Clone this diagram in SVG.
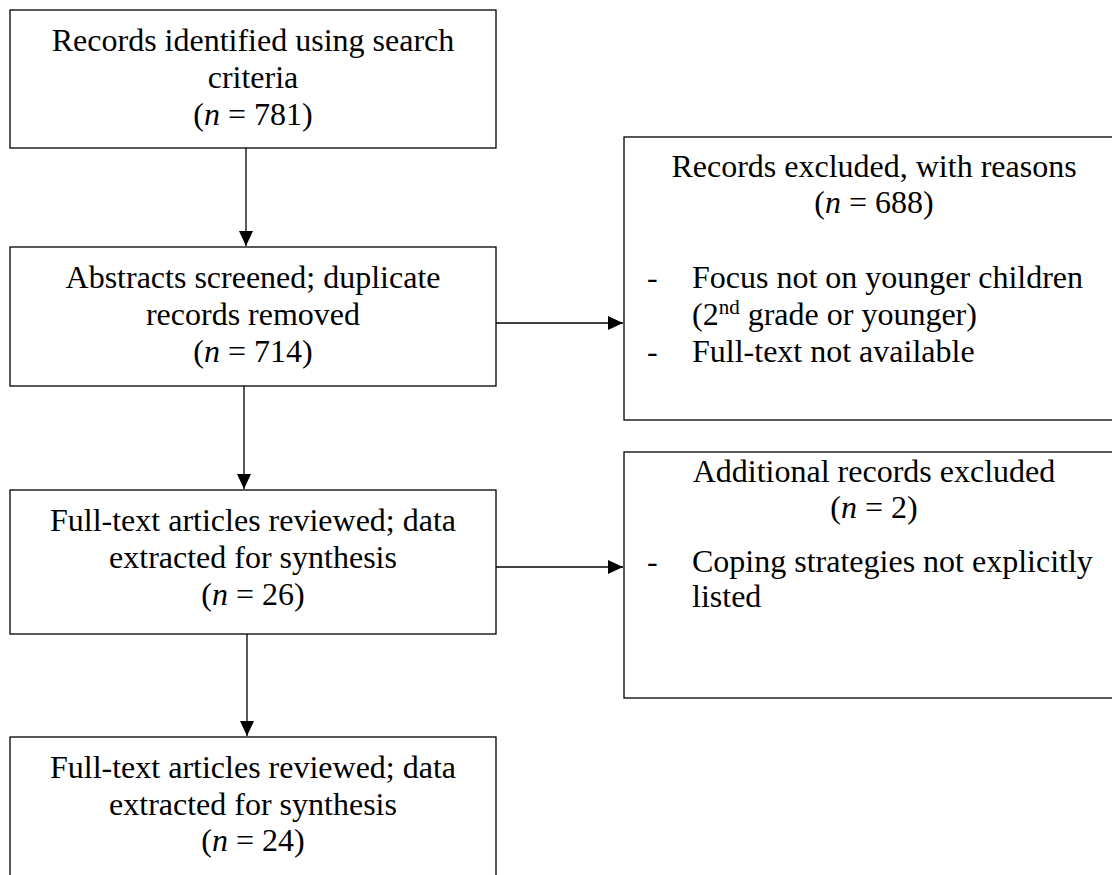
<svg xmlns="http://www.w3.org/2000/svg" width="1112" height="875" viewBox="0 0 1112 875">
<style>
.box{fill:#fff;stroke:#000;stroke-width:1.3}
.t{font-family:"Liberation Serif","Times New Roman",serif;font-size:32px;fill:#000}
.c{text-anchor:middle}
.i{font-style:italic}
.edge{stroke:#000;stroke-width:1.3;fill:none}
</style>
<defs>
<marker id="ah" markerUnits="userSpaceOnUse" markerWidth="16" markerHeight="15" refX="15" refY="7" orient="auto">
<path d="M0,0 L15,7 L0,14 z" fill="#000"/>
</marker>
</defs>
<rect width="1112" height="875" fill="#fff"/>
<g id="connectors">
<line class="edge" x1="246" y1="148" x2="246" y2="246" marker-end="url(#ah)"/>
<line class="edge" x1="244" y1="386" x2="244" y2="489" marker-end="url(#ah)"/>
<line class="edge" x1="247" y1="634" x2="247" y2="736" marker-end="url(#ah)"/>
<line class="edge" x1="496" y1="323" x2="623" y2="323" marker-end="url(#ah)"/>
<line class="edge" x1="496" y1="567" x2="623" y2="567" marker-end="url(#ah)"/>
</g>
<g id="n1">
<rect class="box" x="10" y="10" width="486" height="138"/>
<text class="t c" x="253" y="51">Records identified using search</text>
<text class="t c" x="253" y="88">criteria</text>
<text class="t c" x="253" y="125">(<tspan class="i">n</tspan> = 781)</text>
</g>
<g id="n2">
<rect class="box" x="10" y="247" width="486" height="139"/>
<text class="t c" x="253" y="288">Abstracts screened; duplicate</text>
<text class="t c" x="253" y="325">records removed</text>
<text class="t c" x="253" y="362">(<tspan class="i">n</tspan> = 714)</text>
</g>
<g id="n3">
<rect class="box" x="10" y="490" width="486" height="144"/>
<text class="t c" x="253" y="531">Full-text articles reviewed; data</text>
<text class="t c" x="253" y="568">extracted for synthesis</text>
<text class="t c" x="253" y="605">(<tspan class="i">n</tspan> = 26)</text>
</g>
<g id="n4">
<rect class="box" x="10" y="737" width="486" height="160"/>
<text class="t c" x="253" y="778">Full-text articles reviewed; data</text>
<text class="t c" x="253" y="815">extracted for synthesis</text>
<text class="t c" x="253" y="851">(<tspan class="i">n</tspan> = 24)</text>
</g>
<g id="n5">
<rect class="box" x="624" y="137" width="500" height="283"/>
<text class="t c" x="874" y="177">Records excluded, with reasons</text>
<text class="t c" x="874" y="213">(<tspan class="i">n</tspan> = 688)</text>
<text class="t" x="647" y="288">-</text>
<text class="t" x="692" y="288">Focus not on younger children</text>
<text class="t" x="692" y="325">(2<tspan font-size="21" dy="-11">nd</tspan><tspan dy="11"> grade or younger)</tspan></text>
<text class="t" x="647" y="362">-</text>
<text class="t" x="692" y="362">Full-text not available</text>
</g>
<g id="n6">
<rect class="box" x="624" y="452" width="500" height="246"/>
<text class="t c" x="874" y="482">Additional records excluded</text>
<text class="t c" x="874" y="518">(<tspan class="i">n</tspan> = 2)</text>
<text class="t" x="647" y="572">-</text>
<text class="t" x="692" y="572">Coping strategies not explicitly</text>
<text class="t" x="692" y="607">listed</text>
</g>
</svg>
